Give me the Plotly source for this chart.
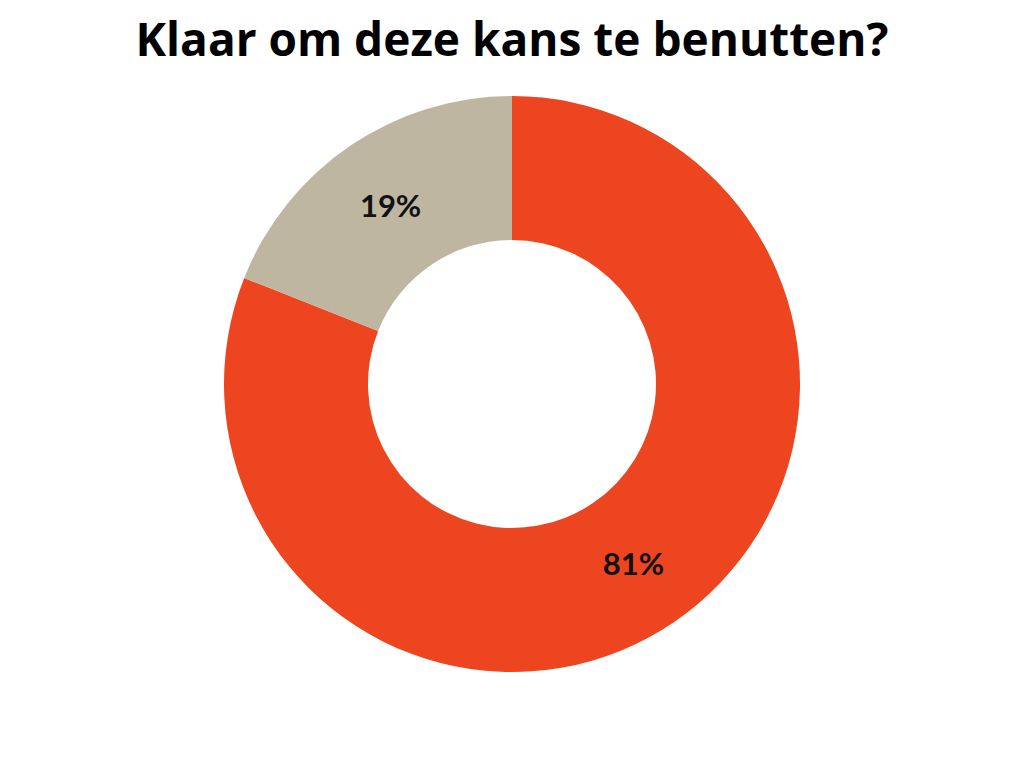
import plotly.graph_objects as go

labels = ["Ja", "Nee"]
values = [81, 19]
colors = ["#EE4521", "#BFB6A2"]
title_text = "Klaar om deze kans te benutten?"

fig = go.Figure(go.Pie(
    labels=labels,
    values=values,
    hole=0.5,
    sort=False,
    direction="clockwise",
    rotation=0,
    marker=dict(colors=colors, line=dict(width=0)),
    textinfo="percent",
    textposition="inside",
    insidetextorientation="horizontal",
    texttemplate="%{percent:.0%}",
    textfont=dict(family="Lato", size=31, color="#111111", weight="bold"),
    showlegend=False,
))

fig.update_layout(
    width=1024, height=768,
    margin=dict(t=96, b=96, l=0, r=0),
    paper_bgcolor="white",
    plot_bgcolor="white",
    title=dict(
        text=title_text,
        x=0.5, xanchor="center", xref="container",
        y=1 - 40 / 768, yanchor="middle", yref="container",
        font=dict(family="Open Sans", size=46, color="#000000", weight="bold"),
    ),
)

fig.write_html(
    "out.html",
    config={"displayModeBar": False},
    post_script="document.body.style.margin='0';document.body.style.overflow='hidden';",
)
